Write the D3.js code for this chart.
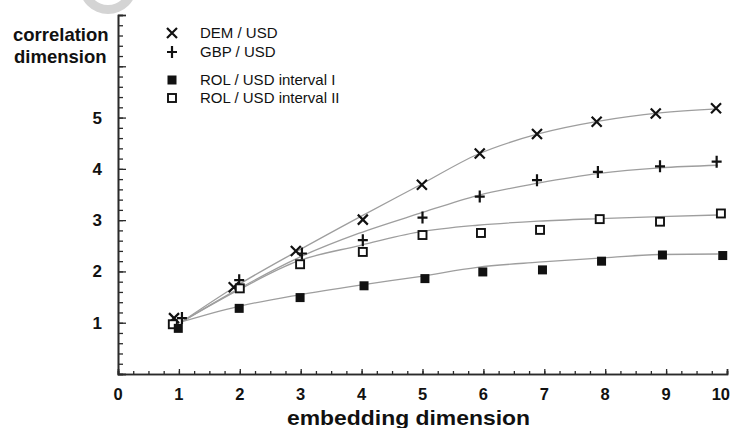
<!DOCTYPE html>
<html>
<head>
<meta charset="utf-8">
<script src="https://cdn.jsdelivr.net/npm/d3@7"></script>
<style>
  html, body { margin: 0; padding: 0; background: #ffffff; }
  svg { display: block; font-family: "Liberation Sans", Arial, sans-serif; }
</style>
</head>
<body>
<svg id="chart" width="731" height="428"></svg>
<script>
// ---- data ----
const xTickValues = [0, 1, 2, 3, 4, 5, 6, 7, 8, 9, 10];
const yTickValues = [1, 2, 3, 4, 5];

// marker positions (embedding dimension, correlation dimension)
const demX = [0.92, 1.90, 2.92, 4.02, 4.99, 5.94, 6.88, 7.86, 8.83, 9.82];
const demY = [1.09, 1.69, 2.40, 3.01, 3.69, 4.30, 4.68, 4.92, 5.08, 5.18];
const gbpX = [1.05, 1.99, 3.02, 4.02, 5.00, 5.94, 6.88, 7.88, 8.90, 9.83];
const gbpY = [1.09, 1.83, 2.35, 2.61, 3.05, 3.46, 3.78, 3.94, 4.05, 4.14];
const rol1X = [0.99, 1.99, 2.99, 4.04, 5.04, 5.99, 6.97, 7.94, 8.94, 9.93];
const rol1Y = [0.89, 1.28, 1.49, 1.72, 1.86, 1.99, 2.03, 2.20, 2.32, 2.31];
const rol2X = [0.90, 2.00, 2.99, 4.02, 5.00, 5.96, 6.93, 7.91, 8.90, 9.90];
const rol2Y = [0.97, 1.67, 2.14, 2.38, 2.71, 2.75, 2.81, 3.02, 2.97, 3.13];

// fitted (smooth grey) curves
const fitX = [1.05, 1.95, 2.95, 3.95, 4.95, 5.9, 6.9, 7.9, 8.9, 9.85];
const demFit = [1.02, 1.72, 2.40, 3.05, 3.68, 4.28, 4.68, 4.93, 5.09, 5.17];
const gbpFit = [1.02, 1.64, 2.26, 2.74, 3.13, 3.48, 3.72, 3.91, 4.02, 4.07];
const rol1Fit = [1.02, 1.31, 1.54, 1.73, 1.90, 2.08, 2.18, 2.26, 2.33, 2.34];
const rol2Fit = [1.02, 1.62, 2.20, 2.50, 2.77, 2.90, 2.98, 3.03, 3.07, 3.10];

const seriesNames = ["DEM / USD", "GBP / USD", "ROL / USD interval I", "ROL / USD interval II"];
const markerKinds = ["cross", "plus", "filled", "open"];

// ---- drawing ----
const svg = d3.select("#chart");
const x = d3.scaleLinear().domain([0, 10]).range([118, 727]);
const y = d3.scaleLinear().domain([0, 7]).range([374, 15]);

// faint watermark ring at top
svg.append("path")
  .attr("d", d3.arc().innerRadius(20).outerRadius(29).startAngle(0).endAngle(2 * Math.PI)())
  .attr("transform", "translate(108,-15)")
  .attr("fill", "#d4d4d4");

const axisColor = "#2a2a2a";

// X axis: ticks pointing inward (up)
const xMinor = d3.range(0, 10.001, 0.25);
const gx = svg.append("g").attr("transform", `translate(0,${y(0)})`);
gx.call(d3.axisTop(x).tickValues(xMinor).tickSize(3).tickFormat(""));
gx.append("g").call(d3.axisTop(x).tickValues(xTickValues).tickSize(5).tickFormat(""));
gx.selectAll(".domain").attr("stroke", axisColor).attr("stroke-width", 1.6);
gx.selectAll(".tick line").attr("stroke", axisColor).attr("stroke-width", 1.3);

// x tick labels
svg.append("g").selectAll("text").data(xTickValues).join("text")
  .attr("x", d => d === 10 ? x(d) + 3 : x(d))
  .attr("y", 400)
  .attr("text-anchor", d => d === 10 ? "end" : "middle")
  .attr("font-size", 16.5).attr("font-weight", "bold").attr("fill", "#111")
  .text(d => d);

// Y axis: ticks pointing inward (right)
const yMinor = d3.range(0, 7.001, 0.2);
const gy = svg.append("g").attr("transform", `translate(${x(0)},0)`);
gy.call(d3.axisRight(y).tickValues(yMinor).tickSize(5).tickFormat(""));
gy.append("g").call(d3.axisRight(y).tickValues(d3.range(0, 8)).tickSize(8).tickFormat(""));
gy.selectAll(".domain").attr("stroke", axisColor).attr("stroke-width", 1.6);
gy.selectAll(".tick line").attr("stroke", axisColor).attr("stroke-width", 1.3);

// y tick labels
svg.append("g").selectAll("text").data(yTickValues).join("text")
  .attr("x", 102)
  .attr("y", d => y(d) + 6)
  .attr("text-anchor", "end")
  .attr("font-size", 17).attr("font-weight", "bold").attr("fill", "#111")
  .text(d => d);

// axis titles
svg.append("text").attr("x", 13).attr("y", 41)
  .attr("font-size", 18.5).attr("font-weight", "bold").attr("fill", "#111")
  .text("correlation");
svg.append("text").attr("x", 14).attr("y", 63)
  .attr("font-size", 18.5).attr("font-weight", "bold").attr("fill", "#111")
  .text("dimension");
svg.append("text").attr("x", 287).attr("y", 425)
  .attr("font-size", 21).attr("font-weight", "bold").attr("fill", "#111")
  .attr("textLength", 243).attr("lengthAdjust", "spacingAndGlyphs")
  .text("embedding dimension");

// fitted curves
const fits = [demFit, gbpFit, rol1Fit, rol2Fit];
const line = d3.line().x(d => x(d[0])).y(d => y(d[1])).curve(d3.curveMonotoneX);
svg.append("g").selectAll("path").data(fits).join("path")
  .attr("d", f => line(fitX.map((xv, i) => [xv, f[i]])))
  .attr("fill", "none").attr("stroke", "#9e9e9e").attr("stroke-width", 1.3);

// marker drawing
function drawMarker(g, kind, cx, cy) {
  const s = 5;
  if (kind === "cross") {
    g.append("path").attr("d", `M${cx - s},${cy - s}L${cx + s},${cy + s}M${cx - s},${cy + s}L${cx + s},${cy - s}`)
      .attr("stroke", "#111").attr("stroke-width", 2.2).attr("fill", "none");
  } else if (kind === "plus") {
    g.append("path").attr("d", `M${cx - s},${cy}L${cx + s},${cy}M${cx},${cy - s - 1}L${cx},${cy + s + 1}`)
      .attr("stroke", "#111").attr("stroke-width", 2.2).attr("fill", "none");
  } else if (kind === "filled") {
    g.append("rect").attr("x", cx - 4.5).attr("y", cy - 4.5).attr("width", 9).attr("height", 9)
      .attr("fill", "#111");
  } else {
    g.append("rect").attr("x", cx - 4).attr("y", cy - 4).attr("width", 8).attr("height", 8)
      .attr("fill", "#fff").attr("stroke", "#111").attr("stroke-width", 1.9);
  }
}

const markerSets = [
  [demX, demY, "cross"],
  [gbpX, gbpY, "plus"],
  [rol2X, rol2Y, "open"],
  [rol1X, rol1Y, "filled"]
];
const gm = svg.append("g");
markerSets.forEach(([xs, ys, kind]) => {
  xs.forEach((xv, i) => drawMarker(gm, kind, x(xv), y(ys[i])));
});

// legend
const legendY = [33, 52, 80, 98];
const gl = svg.append("g");
seriesNames.forEach((name, i) => {
  drawMarker(gl, markerKinds[i], 172, legendY[i]);
  gl.append("text").attr("x", 200).attr("y", legendY[i] + 5)
    .attr("font-size", 15).attr("fill", "#111")
    .text(name);
});
</script>
</body>
</html>
